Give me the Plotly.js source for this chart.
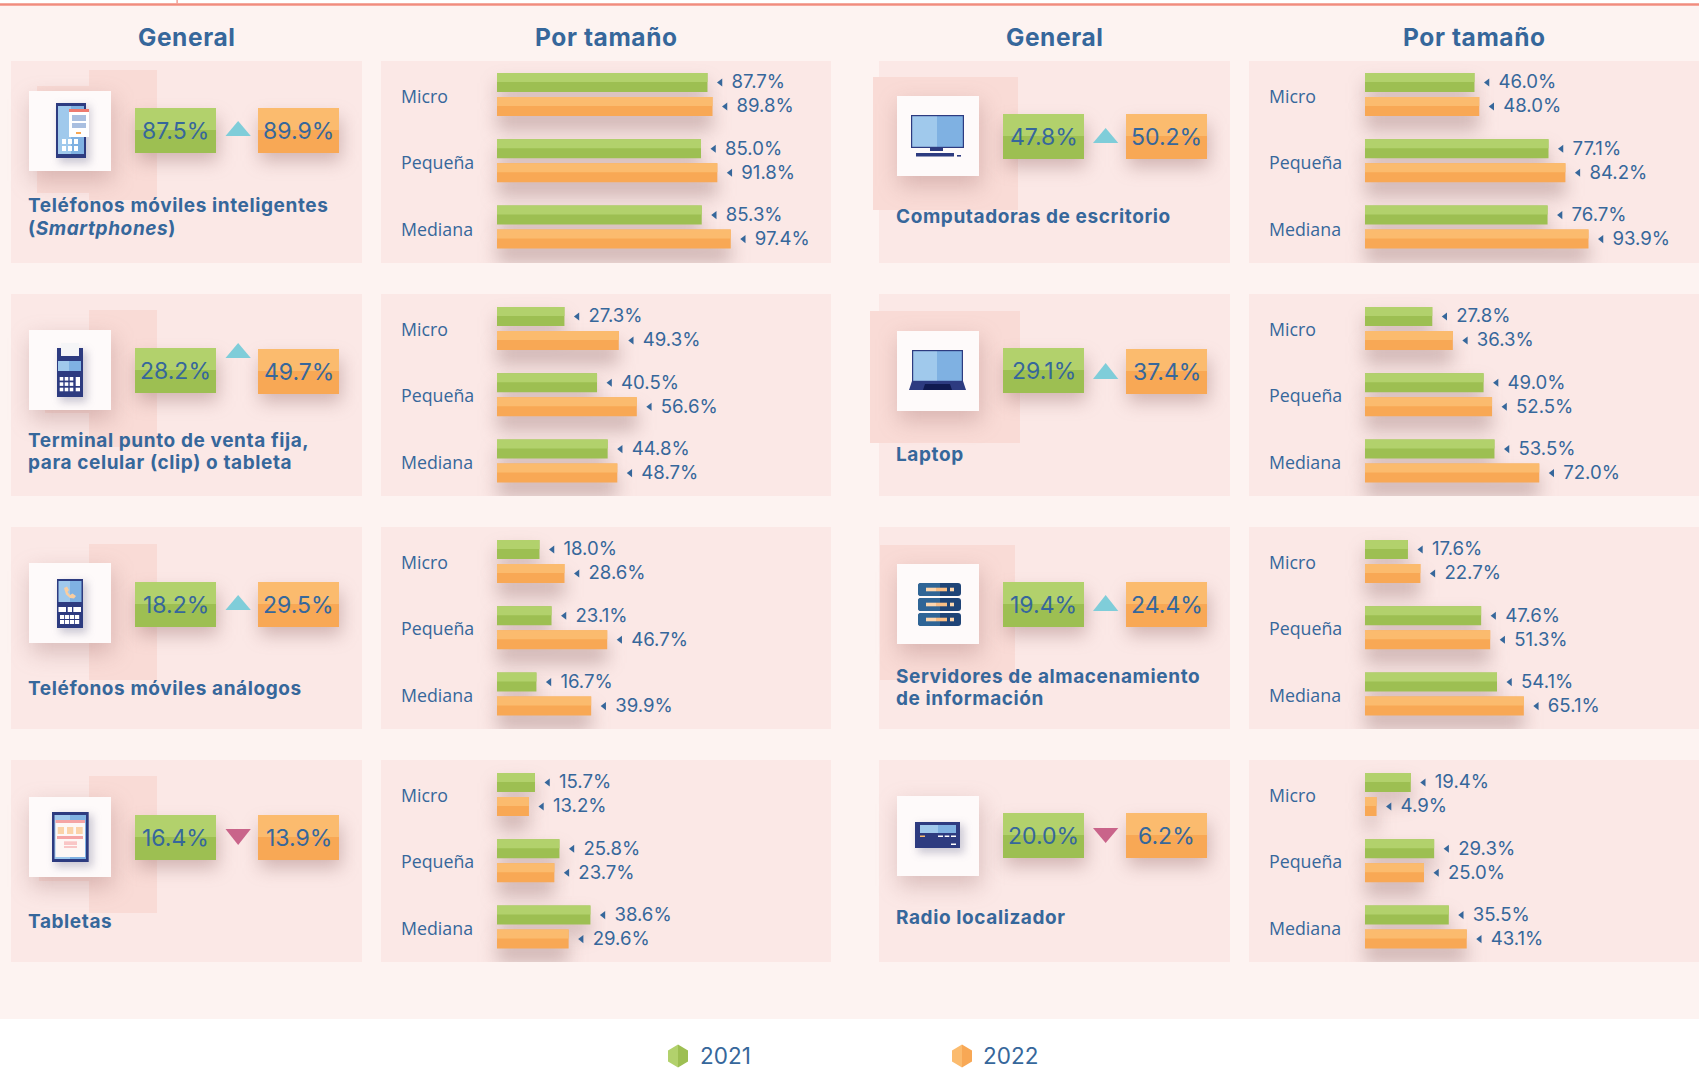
<!DOCTYPE html>
<html><head><meta charset="utf-8">
<script src="https://cdn.plot.ly/plotly-3.0.1.min.js"></script>
<style>html,body{margin:0;padding:0;background:#fff}#chart{width:1699px;height:1082px}</style>
</head><body><div id="chart"></div>
<script>
// ---------- data ----------
const sizes = ['Micro','Pequeña','Mediana'];
const years = ['2021','2022'];
const products = ['Teléfonos móviles inteligentes<br>(<i>Smartphones</i>)','Terminal punto de venta fija,<br>para celular (clip) o tableta','Teléfonos móviles análogos','Tabletas','Computadoras de escritorio','Laptop','Servidores de almacenamiento<br>de información','Radio localizador'];
const general2021 = [87.5,28.2,18.2,16.4,47.8,29.1,19.4,20.0];
const general2022 = [89.9,49.7,29.5,13.9,50.2,37.4,24.4,6.2];
const smartphones2021 = [87.7,85.0,85.3];
const smartphones2022 = [89.8,91.8,97.4];
const terminal2021 = [27.3,40.5,44.8];
const terminal2022 = [49.3,56.6,48.7];
const analog2021 = [18.0,23.1,16.7];
const analog2022 = [28.6,46.7,39.9];
const tablets2021 = [15.7,25.8,38.6];
const tablets2022 = [13.2,23.7,29.6];
const desktop2021 = [46.0,77.1,76.7];
const desktop2022 = [48.0,84.2,93.9];
const laptop2021 = [27.8,49.0,53.5];
const laptop2022 = [36.3,52.5,72.0];
const servers2021 = [17.6,47.6,54.1];
const servers2022 = [22.7,51.3,65.1];
const radio2021 = [19.4,29.3,35.5];
const radio2022 = [4.9,25.0,43.1];
const bySize2021 = [smartphones2021,terminal2021,analog2021,tablets2021,desktop2021,laptop2021,servers2021,radio2021];
const bySize2022 = [smartphones2022,terminal2022,analog2022,tablets2022,desktop2022,laptop2022,servers2022,radio2022];

// ---------- layout constants (px) ----------
const W=1699,H=1082;
const BLUE='#36679b', NAVY='#2d3b80', LB='#a0c9ec', DB='#7fb1e2';
const GL='#b2d16c', GD='#9dbf52', OL='#fbbb6e', OD='#f8a855';
const PANEL='#fbe8e6', BG='#fdf3f1', PINK='#f9dbd6';
const rowTop=[61,294,527,760];
const PH=202, UNIT=66.3;
const px=x=>x/W, py=y=>1-y/H;
const shapes=[], annotations=[], traces=[];
const layout={width:W,height:H,margin:{l:0,r:0,t:0,b:0},paper_bgcolor:'#fff',plot_bgcolor:'rgba(0,0,0,0)',barmode:'overlay',showlegend:false,shapes,annotations,hovermode:false};

function R(x0,y0,x1,y1,c,name){shapes.push({type:'rect',xref:'paper',yref:'paper',x0:px(x0),x1:px(x1),y0:py(y1),y1:py(y0),fillcolor:c,line:{width:0},layer:'below',name:name||undefined});}
function Shadow(x0,y0,x1,y1,c,b){shapes.push({type:'rect',xref:'paper',yref:'paper',x0:px(x0),x1:px(x1),y0:py(y1),y1:py(y0),fillcolor:c,line:{width:0},layer:'below',name:'blur'+(b||10)});}
function Path(pts,c){shapes.push({type:'path',xref:'paper',yref:'paper',path:'M'+pts.map(p=>px(p[0])+','+py(p[1])).join(' L')+' Z',fillcolor:c,line:{width:0},layer:'below'});}
function Round(x0,y0,x1,y1,r,c){const X=px,Y=py;shapes.push({type:'path',xref:'paper',yref:'paper',layer:'below',fillcolor:c,line:{width:0},
 path:`M${X(x0+r)},${Y(y0)} L${X(x1-r)},${Y(y0)} Q${X(x1)},${Y(y0)} ${X(x1)},${Y(y0+r)} L${X(x1)},${Y(y1-r)} Q${X(x1)},${Y(y1)} ${X(x1-r)},${Y(y1)} L${X(x0+r)},${Y(y1)} Q${X(x0)},${Y(y1)} ${X(x0)},${Y(y1-r)} L${X(x0)},${Y(y0+r)} Q${X(x0)},${Y(y0)} ${X(x0+r)},${Y(y0)} Z`});}
function T(x,y,text,size,opts){annotations.push(Object.assign({xref:'paper',yref:'paper',x:px(x),y:py(y),text,showarrow:false,xanchor:'left',yanchor:'middle',align:'left',borderpad:0,font:{family:'Inter',size,color:BLUE}},opts||{}));}

// ---------- page background ----------
R(0,5.7,W,1019,BG);
R(0,3.3,W,5.7,'#f18c7e');
R(176.5,0,177.7,3.3,'#f18c7e');

// ---------- headers ----------
const HEAD_SIZE=24.5, NAME_SIZE=19;
[[186,'General'],[606,'Por tamaño'],[1054,'General'],[1474,'Por tamaño']].forEach(h=>T(h[0],37,'<b>'+h[1]+'</b>',HEAD_SIZE,{xanchor:'center',align:'center'}));

// ---------- panels ----------
const genX=[11,879], genW=351, sizeX=[381,1249], sizeW=450;
for(let c=0;c<2;c++)for(let r=0;r<4;r++){R(genX[c],rowTop[r],genX[c]+genW,rowTop[r]+PH,PANEL);R(sizeX[c],rowTop[r],sizeX[c]+sizeW,rowTop[r]+PH,PANEL);}

// ---------- pink decorations ----------
const deco=[[37,86,89,193],[89,70,157,200],[45,340,89,413],[89,310,157,447],[89,544,157,680],[39,810,89,881],[89,776,157,913],[873,77,1018,210],[870,311,1020,443],[880,545,1015,680]];
deco.forEach(d=>R(d[0],d[1],d[2],d[3],PINK));

// ---------- General column ----------
const squares=[[29,91],[29,330],[29,563],[29,797],[897,96],[897,331],[897,564],[897,796]];
const boxY=[[108,108],[348,349],[582,582],[815,815],[114,114],[348,349],[582,582],[813,813]];
const triY=[[121,136],[343,358],[595,610],[829,845],[128,143],[363,379],[595,611],[828,843]];
const nameY=[217,451.5,688,921,217,454,687.5,917];
function twoTone(x0,y0,x1,y1,a,b){R(x0,y0,x1,y0+(y1-y0)*0.49,a);R(x0,y0+(y1-y0)*0.49,x1,y1,b);}
products.forEach((name,i)=>{
  const c=i<4?0:1, [sx,sy]=squares[i];
  Shadow(sx+2,sy+8,sx+84,sy+90,'rgba(150,100,100,0.32)',11);
  R(sx,sy,sx+82,sy+80,'#fefafa');
  const gx=c?1003:135, ox=c?1126:258, tx=c?1093:225.5;
  const [gy,oy]=boxY[i];
  Shadow(gx+2,gy+10,gx+83,gy+53,'rgba(140,95,95,0.38)',9);
  Shadow(ox+2,oy+10,ox+83,oy+53,'rgba(140,95,95,0.38)',9);
  twoTone(gx,gy,gx+81,gy+45,GL,GD);
  twoTone(ox,oy,ox+81,oy+45,OL,OD);
  T(gx+40.5,gy+23,general2021[i].toFixed(1)+'%',23,{xanchor:'center',align:'center'});
  T(ox+40.5,oy+23,general2022[i].toFixed(1)+'%',23,{xanchor:'center',align:'center'});
  const [t0,t1]=triY[i], up=general2022[i]>=general2021[i];
  if(up) Path([[tx,t1],[tx+25.3,t1],[tx+12.65,t0]],'#7fcdd9');
  else Path([[tx,t0],[tx+25.3,t0],[tx+12.65,t1]],'#c9648a');
  const lines=name.split('<br>');
  lines.forEach((ln,j)=>T(c?895:27,nameY[i]+(j-(lines.length-1)/2)*22.6,'<b>'+ln+'</b>',NAME_SIZE));
});

// ---------- icons ----------
function L(o){return (a,b,c,d,col)=>R(o[0]+a,o[1]+b,o[0]+c,o[1]+d,col);}
function IS(o,a,b,c,d){Shadow(o[0]+a+3,o[1]+b+3,o[0]+c+4,o[1]+d+5,'rgba(70,70,110,0.28)',4);}
(function(){ const o=squares[0], r=L(o); IS(o,27,12,57,67);
 r(27,12,57,67,NAVY); r(29,15,42,63,LB); r(42,15,55,63,DB);
 r(40,18,60,46,'#ffffff'); r(40,18,60,21,'#ee7b70');
 r(43,24,57,30,'#a9bfe0'); r(43,32,57,37,'#a9bfe0'); r(47,41,52,43,OD);
 for(const x of [33,39,45])for(const y of [48,55]) r(x,y,x+4,y+5,'#fff');
})();
(function(){ const o=squares[1], r=L(o); IS(o,28,18,54,67);
 r(28,18,54,67,NAVY); r(32,13,50,26,'#f5f5f7'); r(29,31,40,41,LB); r(40,31,52,41,DB);
 for(const x of [30.7,35.7,40.7])for(const y of [47,52.3,57.7]) r(x,y,x+3.6,y+3.6,'#fff');
 r(46.7,47,51,56,'#fff'); r(46.7,57.7,51,61.3,'#fff');
})();
(function(){ const o=squares[2], r=L(o); IS(o,28,16,54,65);
 r(28,16,54,65,NAVY); r(29.5,18,41,39,LB); r(41,18,52.5,39,DB);
 Path([[35,25],[38,23.5],[40,27],[38.5,29],[41,32],[43.5,30.5],[47,33],[45,35.5],[41,35],[37,31.5]].map(p=>[o[0]+p[0],o[1]+p[1]]),'#f9cda0');
 r(29.5,44,37,49,'#fff'); r(38.7,44,43,49,'#fff'); r(44.3,44,52,49,'#fff');
 for(const x of [31,36,41,46])for(const y of [52,57]) r(x,y,x+4.2,y+4,'#fff');
})();
(function(){ const o=squares[3], r=L(o); IS(o,23,15,59.7,65);
 r(23,15,59.7,65,NAVY); r(25.5,18,41,62,LB); r(41,18,57,62,DB);
 r(26.5,23,56,60,'#fdf7f5'); r(26.5,23,56,26,'#f5a5a5');
 r(28.7,30,35,37,'#fbd3a8'); r(38,30,44.3,37,'#fbd3a8'); r(47,30,53.7,37,'#fbd3a8');
 r(28,39,54,42,'#f5a5a5'); r(35,44.3,48,48,'#f9c6c6'); r(35,49,48,51,'#f9c6c6');
})();
(function(){ const o=squares[4], r=L(o);
 r(14,19,67,52,NAVY); r(15.2,20.2,40,50.8,LB); r(40,20.2,65.8,50.8,DB);
 r(33,52,46,55,NAVY); r(19,57,57,60.6,NAVY); r(60,59,64,60.6,NAVY);
})();
(function(){ const o=squares[5], r=L(o);
 r(15,19,66,51,NAVY); r(16.2,20.2,40,49.8,LB); r(40,20.2,64.8,49.8,DB);
 Path([[o[0]+15,o[1]+50],[o[0]+66,o[1]+50],[o[0]+69,o[1]+59],[o[0]+12,o[1]+59]],NAVY);
 Path([[o[0]+28,o[1]+53],[o[0]+53,o[1]+53],[o[0]+55,o[1]+59],[o[0]+26,o[1]+59]],'#101a50');
})();
(function(){ const o=squares[6], r=L(o);
 [19,34,49].forEach(y=>{ Round(o[0]+21,o[1]+y,o[0]+64,o[1]+y+13,3,'#1f4477');
   Round(o[0]+21,o[1]+y,o[0]+45,o[1]+y+13,3,'#2f6596'); r(43,y,45,y+13,'#1f4477');
   r(29,y+4.7,39,y+8.3,'#fcd6ae'); r(39,y+4.7,50,y+8.3,'#f9bd84'); r(53,y+4.7,57,y+8.3,'#fcd6ae'); });
})();
(function(){ const o=squares[7], r=L(o); IS(o,18,26,63,52);
 r(18,26,63,52,NAVY); r(23,29,41,37,LB); r(41,29,59,37,DB);
 r(23,39.5,28,41,OL); r(41,39.5,46,41,'#fff'); r(47.7,39.5,52.3,41,'#fff'); r(54,39.5,59,41,'#fff'); r(54,47.5,59,49,'#fff');
})();

// ---------- size charts: one subplot per panel, drawn through its axes ----------
const BAR=19, LIGHT=9, GTOP=-21.5, OTOP=2.5, GROUP0=[33.5,34.5,34.5,34.5];
const scale=[2.40,2.47,2.36,2.42,2.38,2.42,2.44,2.36];
bySize2021.forEach((v21,i)=>{
  const c=i<4?0:1, r=i%4, n=i+1, v22=bySize2022[i], left=sizeX[c], top=rowTop[r], k=scale[i], g0=GROUP0[r];
  const xn=n===1?'x':'x'+n, yn=n===1?'y':'y'+n, xk=n===1?'xaxis':'xaxis'+n, yk=n===1?'yaxis':'yaxis'+n;
  layout[xk]={domain:[px(left),px(left+sizeW)],range:[-116/k,(sizeW-116)/k],visible:false,fixedrange:true,anchor:yn};
  layout[yk]={domain:[py(top+PH),py(top)],range:[(PH-g0)/UNIT,-g0/UNIT],visible:false,fixedrange:true,anchor:xn};
  const idx=sizes.map((_,j)=>j);
  const bar=(x,off,h,color,meta)=>traces.push({type:'bar',orientation:'h',x,y:idx,base:0,offset:off/UNIT,width:h/UNIT,marker:{color,line:{width:0}},meta,xaxis:xn,yaxis:yn,hoverinfo:'skip',showlegend:false});
  bar(v21,GTOP+10,BAR+1,'rgba(120,80,80,0.30)','shadow');
  bar(v22,OTOP+12,BAR+2,'rgba(120,80,80,0.34)','shadow');
  bar(v21,GTOP,BAR,GD); bar(v21,GTOP,LIGHT,GL);
  bar(v22,OTOP,BAR,OD); bar(v22,OTOP,LIGHT,OL);
  [[v21,GTOP+BAR/2],[v22,OTOP+BAR/2]].forEach(s=>{
    traces.push({type:'scatter',mode:'markers',x:s[0].map(v=>v+13/k),y:idx.map(j=>j+s[1]/UNIT),marker:{symbol:'triangle-left',size:7,color:BLUE,line:{width:0}},xaxis:xn,yaxis:yn,hoverinfo:'skip',showlegend:false});
    traces.push({type:'scatter',mode:'text',x:s[0].map(v=>v+24/k),y:idx.map(j=>j+(s[1]+1.2)/UNIT),text:s[0].map(v=>v.toFixed(1)+'%'),textposition:'middle right',textfont:{family:'Inter',size:18.6,color:BLUE},xaxis:xn,yaxis:yn,hoverinfo:'skip',showlegend:false});
  });
  sizes.forEach((s,j)=>T(left+19,top+33.5+j*UNIT+1.5,s,17.8,{font:{family:'Open Sans',size:17.8,color:BLUE}}));
});

// ---------- legend ----------
function Hex(cx,cy,a,b){const w=10,h=11.5,q=5.5;
 Path([[cx,cy-h],[cx,cy+h],[cx-w,cy+q],[cx-w,cy-q]],a);
 Path([[cx,cy-h],[cx+w,cy-q],[cx+w,cy+q],[cx,cy+h]],b);}
Hex(678,1056,GL,GD); T(698.5,1055.5,years[0],22.5);
Hex(962,1056,OL,OD); T(982.5,1055.5,years[1],22.5);

Plotly.newPlot('chart',traces,layout,{staticPlot:true,displayModeBar:false}).then(gd=>{
  gd.querySelectorAll('.shapelayer path').forEach(p=>{
    const s=layout.shapes[+p.getAttribute('data-index')];
    if(s&&s.name&&s.name.indexOf('blur')===0)p.style.filter='blur('+s.name.slice(4)+'px)';
  });
  gd.querySelectorAll('.barlayer .trace').forEach(g=>{
    const d=g.__data__; const t=d&&d[0]&&d[0].trace;
    if(t&&t.meta==='shadow')g.style.filter='blur(9px)';
  });
  gd.querySelectorAll('.annotation-text').forEach(t=>{
    const fs=parseFloat(t.style.fontSize);
    if(fs===NAME_SIZE||fs===HEAD_SIZE)t.style.letterSpacing='0.6px';
  });
});
</script></body></html>
